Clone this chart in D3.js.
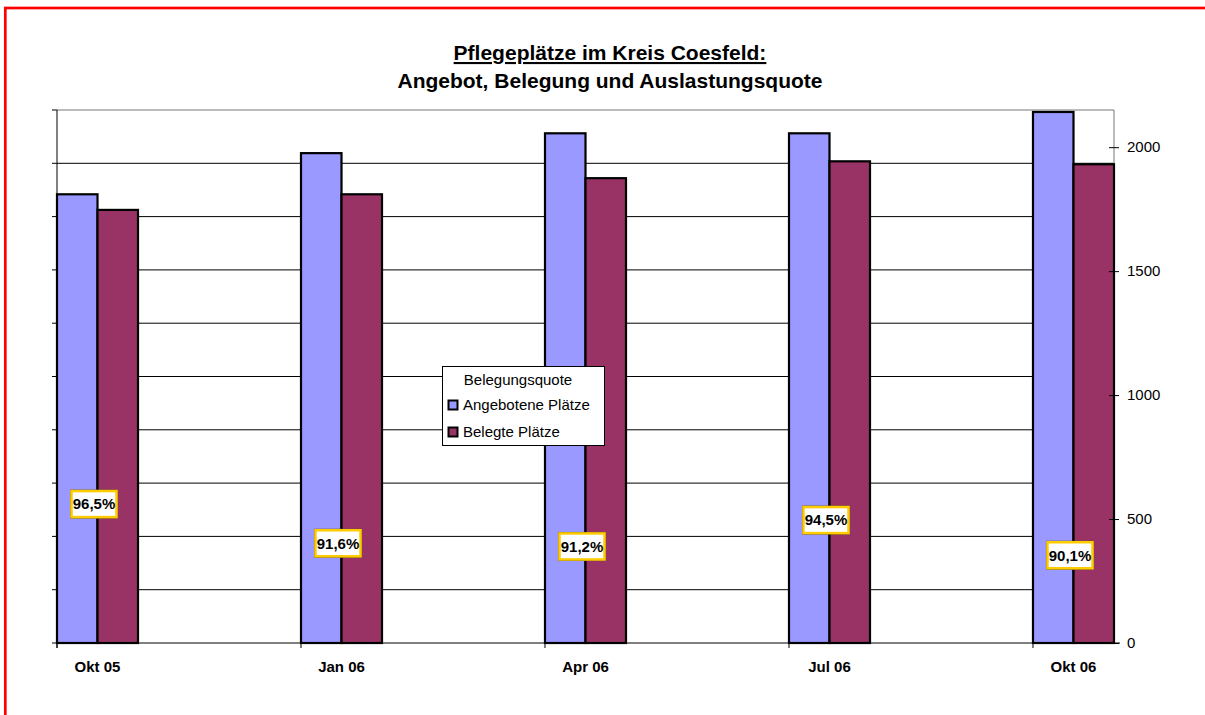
<!DOCTYPE html>
<html>
<head>
<meta charset="utf-8">
<script src="https://cdn.jsdelivr.net/npm/d3@7/dist/d3.min.js"></script>
<style>
  html, body { margin: 0; padding: 0; background: #fff; }
  svg { display: block; font-family: "Liberation Sans", Arial, sans-serif; }
</style>
</head>
<body>
<svg id="chart" width="1205" height="715"></svg>
<script>
const categories = ["Okt 05", "Jan 06", "Apr 06", "Jul 06", "Okt 06"];
const angebotenePlaetze = [1810, 1976, 2056, 2056, 2142];
const belegtePlaetze = [1747, 1810, 1875, 1943, 1931];
const quoteValues = [96.5, 91.6, 91.2, 94.5, 90.1];
const quoteLabels = ["96,5%", "91,6%", "91,2%", "94,5%", "90,1%"];
const rightTicks = [0, 500, 1000, 1500, 2000];
const seriesNames = ["Angebotene Plätze", "Belegte Plätze"];
const legendTitle = "Belegungsquote";
const titleLines = ["Pflegeplätze im Kreis Coesfeld:", "Angebot, Belegung und Auslastungsquote"];

const colors = ["#9999FF", "#993366"];
const svg = d3.select("#chart");
const L = 57, R = 1114, T = 110, B = 643;

// red frame
svg.append("rect").attr("x", 5.3).attr("y", 8).attr("width", 1400).attr("height", 900)
  .attr("fill", "none").attr("stroke", "#ff0000").attr("stroke-width", 2.7);

// scales
const x = d3.scaleBand().domain(categories).range([L, R]).paddingInner(0.668).paddingOuter(0);
const sub = d3.scaleBand().domain([0, 1]).range([0, x.bandwidth()]);
const y = d3.scaleLinear().domain([0, 2150]).range([B, T]);
const yq = d3.scaleLinear().domain([80, 146.67]).range([B, T]);
const grid = d3.scaleLinear().domain([0, 10]).range([B, T]);

// gridlines + left ticks
const gl = svg.append("g");
grid.ticks(10).forEach((t, i) => {
  const yy = grid(t);
  if (t > 0) {
    gl.append("line").attr("x1", L).attr("x2", R).attr("y1", yy).attr("y2", yy)
      .attr("stroke", t === 10 ? "#777" : "#000").attr("stroke-width", 1);
  }
  gl.append("line").attr("x1", L - 5).attr("x2", L).attr("y1", yy).attr("y2", yy)
    .attr("stroke", "#000").attr("stroke-width", 1);
});
// left axis line
gl.append("line").attr("x1", L).attr("x2", L).attr("y1", T).attr("y2", B + 5)
  .attr("stroke", "#000").attr("stroke-width", 1);
// right frame line
gl.append("line").attr("x1", R).attr("x2", R).attr("y1", T).attr("y2", B)
  .attr("stroke", "#777").attr("stroke-width", 1);

// bars
const seriesData = [angebotenePlaetze, belegtePlaetze];
seriesData.forEach((vals, s) => {
  svg.append("g").selectAll("rect").data(vals).join("rect")
    .attr("x", (d, i) => x(categories[i]) + sub(s))
    .attr("y", d => y(d))
    .attr("width", sub.bandwidth())
    .attr("height", d => B - y(d))
    .attr("fill", colors[s])
    .attr("stroke", "#000").attr("stroke-width", 2.2);
});

// bottom axis
const xa = svg.append("g");
xa.append("line").attr("x1", L).attr("x2", R + 6).attr("y1", B).attr("y2", B)
  .attr("stroke", "#000").attr("stroke-width", 1);
categories.forEach(c => {
  xa.append("line").attr("x1", x(c)).attr("x2", x(c)).attr("y1", B).attr("y2", B + 5)
    .attr("stroke", "#000");
  xa.append("text").attr("x", x(c) + x.bandwidth() / 2).attr("y", 672)
    .attr("text-anchor", "middle").attr("font-size", 15).attr("font-weight", "bold")
    .attr("fill", "#000").text(c);
});

// right axis
const ra = svg.append("g").attr("transform", `translate(${R - 5},0)`)
  .call(d3.axisRight(y).tickValues(rightTicks).tickFormat(d3.format("d")).tickSize(10).tickPadding(8));
ra.select(".domain").remove();
ra.selectAll("line").attr("stroke", "#000");
ra.selectAll("text").attr("font-size", 15).attr("fill", "#000")
  .attr("font-family", "'Liberation Sans', Arial, sans-serif");

// percentage labels
const lg = svg.append("g");
quoteValues.forEach((v, i) => {
  const cx = x(categories[i]) + x.bandwidth() / 2 - 4;
  const cy = yq(v) - 7.5;
  lg.append("rect").attr("x", cx - 23).attr("y", cy - 13.5).attr("width", 47).attr("height", 28)
    .attr("fill", "none").attr("stroke", "#6b5a1a").attr("stroke-width", 1);
  lg.append("rect").attr("x", cx - 22).attr("y", cy - 12.5).attr("width", 45).attr("height", 26)
    .attr("fill", "#fff").attr("stroke", "#FFCC00").attr("stroke-width", 2.5);
  lg.append("text").attr("x", cx + 0.5).attr("y", cy + 0.5).attr("dy", "0.36em")
    .attr("text-anchor", "middle").attr("font-size", 15).attr("font-weight", "bold")
    .attr("fill", "#000").text(quoteLabels[i]);
});

// legend
const leg = svg.append("g");
leg.append("rect").attr("x", 442.5).attr("y", 366.5).attr("width", 162).attr("height", 79)
  .attr("fill", "#fff").attr("stroke", "#000").attr("stroke-width", 1);
leg.append("text").attr("x", 518).attr("y", 385).attr("text-anchor", "middle")
  .attr("font-size", 15).attr("fill", "#000").text(legendTitle);
seriesNames.forEach((n, i) => {
  const yy = 400 + i * 27;
  leg.append("rect").attr("x", 448.5).attr("y", yy + 0.5).attr("width", 9).attr("height", 9)
    .attr("fill", colors[i]).attr("stroke", "#000").attr("stroke-width", 2);
  leg.append("text").attr("x", 463).attr("y", yy + 10).attr("font-size", 15)
    .attr("fill", "#000").text(n);
});

// title
svg.append("text").attr("x", 610).attr("y", 60).attr("text-anchor", "middle")
  .attr("font-size", 21).attr("font-weight", "bold").attr("fill", "#000")
  .attr("text-decoration", "underline").text(titleLines[0]);
svg.append("text").attr("x", 610).attr("y", 88).attr("text-anchor", "middle")
  .attr("font-size", 21).attr("font-weight", "bold").attr("fill", "#000")
  .text(titleLines[1]);
</script>
</body>
</html>
